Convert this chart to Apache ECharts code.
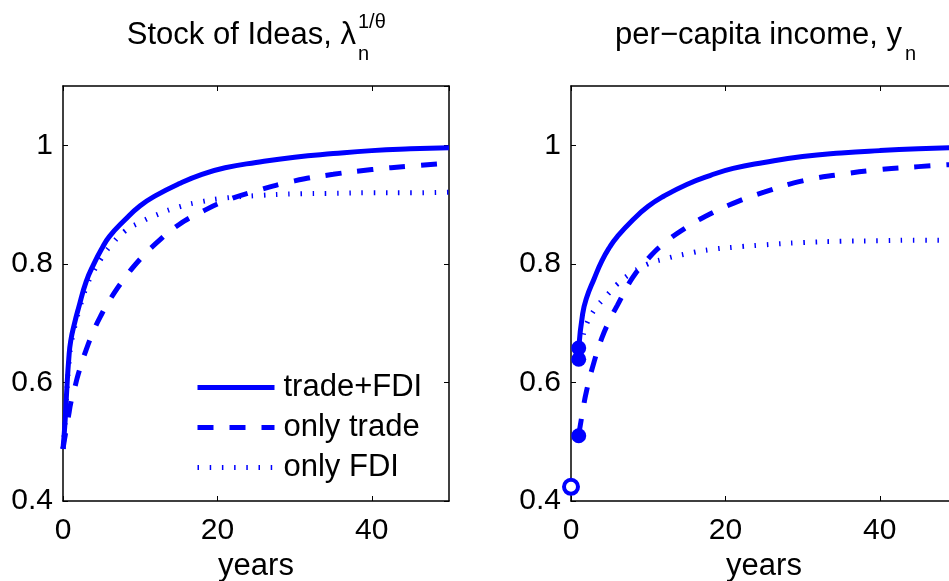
<!DOCTYPE html>
<html><head><meta charset="utf-8">
<script src="https://cdn.jsdelivr.net/npm/echarts@6/dist/echarts.min.js"></script>
<style>html,body{margin:0;padding:0;background:#fff}#c{width:949px;height:581px}</style>
</head><body><div id="c"></div>
<script>
// ---- data ----
const seriesNames = ['trade+FDI', 'only trade', 'only FDI'];

const yearsLeft      = [0, 0.25, 0.5, 0.75, 1, 1.5, 2, 3, 4, 5, 6, 8, 10, 12, 15, 18, 21, 25, 30, 35, 40, 45, 50];
const tradeFdiLeft   = [0.488, 0.53, 0.59, 0.64, 0.67, 0.70, 0.725, 0.77, 0.80, 0.825, 0.846, 0.874, 0.898, 0.915, 0.935, 0.951, 0.962, 0.971, 0.980, 0.986, 0.991, 0.994, 0.996];
const onlyTradeLeft  = [0.488, 0.508, 0.527, 0.546, 0.565, 0.59, 0.615, 0.655, 0.688, 0.715, 0.738, 0.776, 0.808, 0.834, 0.866, 0.888, 0.906, 0.923, 0.940, 0.951, 0.959, 0.965, 0.970];
const onlyFdiLeft    = [0.488, 0.53, 0.585, 0.63, 0.66, 0.693, 0.718, 0.76, 0.788, 0.81, 0.828, 0.855, 0.870, 0.882, 0.896, 0.905, 0.911, 0.915, 0.918, 0.919, 0.920, 0.920, 0.921];

const yearsRight     = [1, 1.5, 2, 3, 4, 5, 6, 8, 10, 12, 15, 18, 21, 25, 30, 35, 40, 45, 50];
const tradeFdiRight  = [0.658, 0.715, 0.742, 0.775, 0.805, 0.828, 0.846, 0.874, 0.897, 0.914, 0.934, 0.949, 0.961, 0.971, 0.981, 0.987, 0.991, 0.994, 0.996];
const onlyTradeRight = [0.512, 0.55, 0.585, 0.635, 0.675, 0.705, 0.73, 0.777, 0.809, 0.834, 0.862, 0.884, 0.902, 0.921, 0.94, 0.951, 0.959, 0.964, 0.968];
const onlyFdiRight   = [0.64, 0.675, 0.698, 0.722, 0.738, 0.752, 0.766, 0.786, 0.800, 0.808, 0.817, 0.824, 0.828, 0.832, 0.836, 0.838, 0.839, 0.840, 0.840];

const jumpYears   = [1, 1, 1];
const jumpValues  = [0.658, 0.639, 0.51];
const startYears  = [0];
const startValues = [0.424];

const titleLeft  = 'Stock of Ideas, λ';
const titleLeftSup = '1/θ';
const titleLeftSub = 'n';
const titleRight = 'per−capita income, y';
const titleRightSub = 'n';
const xName = 'years';

// ---- chart ----
const FONT = '"Liberation Sans", Arial, Helvetica, sans-serif';
const BLUE = '#0000ff';
const zip = (xs, ys) => xs.map((x, i) => [x, ys[i]]);

function xAx(grid, pos) {
  const bottom = pos === 'bottom';
  return {
    type: 'value', gridIndex: grid, position: pos, min: 0, max: 50, interval: 20,
    axisLine: { show: true, onZero: false, lineStyle: { color: '#000', width: 1.5 } },
    axisTick: { show: true, inside: true, length: 5, lineStyle: { color: '#000', width: 1 } },
    axisLabel: { show: bottom, margin: 15, color: '#000', fontSize: 30, fontFamily: FONT, showMaxLabel: false },
    splitLine: { show: false },
    name: bottom ? xName : '', nameLocation: 'middle', nameGap: 46,
    nameTextStyle: { color: '#000', fontSize: 31, fontFamily: FONT }
  };
}
function yAx(grid, pos) {
  const left = pos === 'left';
  return {
    type: 'value', gridIndex: grid, position: pos, min: 0.4, max: 1.1, interval: 0.2,
    axisLine: { show: true, onZero: false, lineStyle: { color: '#000', width: 1.5 } },
    axisTick: { show: true, inside: true, length: 5, lineStyle: { color: '#000', width: 1 } },
    axisLabel: { show: left, margin: 10, color: '#000', fontSize: 30, fontFamily: FONT, showMaxLabel: false,
                 formatter: v => String(Number(v.toFixed(1))) },
    splitLine: { show: false }
  };
}
const styles = [
  { width: 5, type: 'solid' },
  { width: 5, type: [16, 16], cap: 'butt' },
  { width: 5, type: [1.5, 10.7], cap: 'butt' }
];
function lineSeries(i, grid, xs, ys) {
  return {
    type: 'line', name: seriesNames[i], xAxisIndex: grid * 2, yAxisIndex: grid * 2,
    data: zip(xs, ys), showSymbol: false, symbol: 'none', smooth: 0.5,
    lineStyle: Object.assign({ color: BLUE }, styles[i]), itemStyle: { color: BLUE },
    animation: false, z: 3
  };
}
const ts = (size) => ({ fontSize: size, fontWeight: 'normal', fontFamily: FONT, color: '#000' });

const option = {
  backgroundColor: '#fff',
  animation: false,
  title: [
    { text: titleLeft, right: 949 - 356, top: 20, padding: 0, textStyle: ts(31) },
    { text: titleLeftSup, left: 358, top: 12, padding: 0, textStyle: ts(20) },
    { text: titleLeftSub, left: 358, top: 44, padding: 0, textStyle: ts(20) },
    { text: titleRight, right: 949 - 902, top: 20, padding: 0, textStyle: ts(31) },
    { text: titleRightSub, left: 905, top: 44, padding: 0, textStyle: ts(20) }
  ],
  grid: [
    { left: 63, top: 86, width: 386, height: 415, containLabel: false, outerBoundsMode: 'none' },
    { left: 571, top: 86, width: 386, height: 415, containLabel: false, outerBoundsMode: 'none' }
  ],
  xAxis: [xAx(0, 'bottom'), xAx(0, 'top'), xAx(1, 'bottom'), xAx(1, 'top')],
  yAxis: [yAx(0, 'left'), yAx(0, 'right'), yAx(1, 'left'), yAx(1, 'right')],
  legend: {
    data: seriesNames, orient: 'vertical', left: 195, top: 372, padding: 0, itemGap: 9,
    itemWidth: 77, itemHeight: 30, selectedMode: false,
    itemStyle: { opacity: 0 }, lineStyle: { width: 'inherit' },
    textStyle: { fontSize: 31, fontFamily: FONT, color: '#000', lineHeight: 30, padding: [0, 0, 0, 4] }
  },
  series: [
    lineSeries(0, 0, yearsLeft, tradeFdiLeft),
    lineSeries(1, 0, yearsLeft, onlyTradeLeft),
    lineSeries(2, 0, yearsLeft, onlyFdiLeft),
    lineSeries(0, 1, yearsRight, tradeFdiRight),
    lineSeries(1, 1, yearsRight, onlyTradeRight),
    lineSeries(2, 1, yearsRight, onlyFdiRight),
    { type: 'scatter', xAxisIndex: 2, yAxisIndex: 2, data: zip(jumpYears, jumpValues), symbol: 'circle',
      symbolSize: 15, itemStyle: { color: BLUE, opacity: 1 }, clip: false, z: 4 },
    { type: 'scatter', xAxisIndex: 2, yAxisIndex: 2, data: zip(startYears, startValues), symbol: 'circle',
      symbolSize: 14, itemStyle: { color: '#fff', borderColor: BLUE, borderWidth: 4, opacity: 1 }, clip: false, z: 4 }
  ]
};
const chart = echarts.init(document.getElementById('c'), null, { renderer: 'canvas' });
chart.setOption(option);
</script>
</body></html>
